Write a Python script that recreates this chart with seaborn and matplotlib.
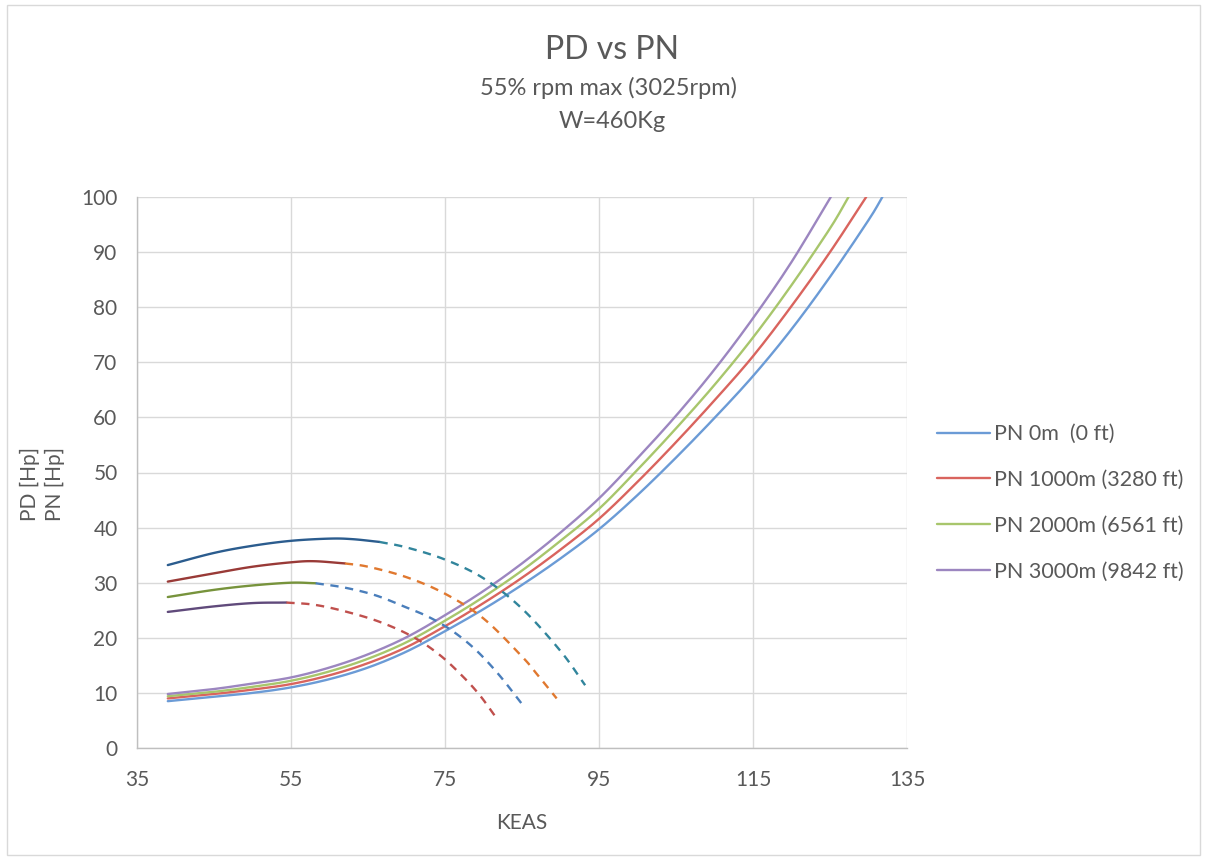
import matplotlib
matplotlib.use("Agg")
import matplotlib.pyplot as plt
from matplotlib.patches import Rectangle
from matplotlib.lines import Line2D
import seaborn as sns
import numpy as np
import pandas as pd

# ---- power required (PD) vs KEAS, one series per altitude ----
pd_keas_0 = [39, 45, 50, 55, 60, 65, 70, 75, 80, 85, 90, 95, 100, 105, 110, 115, 120, 125, 130, 131.8]
pd_hp_0 = [8.5, 9.3, 10.0, 11.0, 12.5, 14.6, 17.5, 21.2, 25.2, 29.6, 34.4, 39.7, 45.9, 52.7, 59.9, 67.5, 76.0, 85.5, 95.8, 100]

pd_keas_1000 = [39, 45, 50, 55, 60, 65, 70, 75, 80, 85, 90, 95, 100, 105, 110, 115, 120, 125, 129.7]
pd_hp_1000 = [9.0, 9.8, 10.6, 11.6, 13.2, 15.4, 18.3, 22.1, 26.3, 30.9, 36.0, 41.6, 48.3, 55.5, 63.1, 71.1, 80.2, 90.0, 100]

pd_keas_2000 = [39, 45, 50, 55, 60, 65, 70, 75, 80, 85, 90, 95, 100, 105, 110, 115, 120, 125, 127.4]
pd_hp_2000 = [9.4, 10.2, 11.1, 12.2, 13.9, 16.2, 19.2, 23.1, 27.4, 32.2, 37.6, 43.4, 50.5, 58.0, 65.9, 74.5, 84.0, 94.3, 100]

pd_keas_3000 = [39, 45, 50, 55, 60, 65, 70, 75, 80, 85, 90, 95, 100, 105, 110, 115, 120, 125.1]
pd_hp_3000 = [9.8, 10.7, 11.7, 12.8, 14.6, 17.0, 20.1, 24.1, 28.5, 33.5, 39.1, 45.3, 52.6, 60.3, 68.7, 78.0, 88.2, 100]

# ---- power available (PN): solid part and dashed continuation ----
pn_keas_0 = [39, 45, 50, 55, 60, 63, 66.5]
pn_hp_0 = [33.2, 35.4, 36.7, 37.6, 38.0, 37.9, 37.4]
pn_ext_keas_0 = [66.5, 70, 75, 80, 85, 90, 93.2]
pn_ext_hp_0 = [37.4, 36.4, 34.2, 30.8, 25.3, 17.6, 11.4]

pn_keas_1000 = [39, 45, 50, 55, 58, 62]
pn_hp_1000 = [30.2, 31.7, 32.9, 33.7, 33.9, 33.5]
pn_ext_keas_1000 = [62, 65, 70, 75, 80, 85, 87, 89.5]
pn_ext_hp_1000 = [33.5, 32.9, 31.0, 28.0, 23.5, 16.6, 13.3, 9.0]

pn_keas_2000 = [39, 45, 50, 55, 58.2]
pn_hp_2000 = [27.4, 28.7, 29.5, 30.0, 29.9]
pn_ext_keas_2000 = [58.2, 62, 66, 70, 73, 76, 79, 82, 85.1]
pn_ext_hp_2000 = [29.9, 29.1, 27.7, 25.5, 23.7, 21.2, 17.8, 13.3, 7.8]

pn_keas_3000 = [39, 45, 50, 54.4]
pn_hp_3000 = [24.7, 25.7, 26.3, 26.4]
pn_ext_keas_3000 = [54.4, 58, 62, 66.5, 70.8, 74.3, 77.3, 79.5, 81.6]
pn_ext_hp_3000 = [26.4, 26.0, 24.8, 22.9, 20.2, 16.9, 13.0, 9.6, 5.6]

legend_labels = ["PN 0m  (0 ft)", "PN 1000m (3280 ft)", "PN 2000m (6561 ft)", "PN 3000m (9842 ft)"]
x_ticks = [35, 55, 75, 95, 115, 135]
y_ticks = [0, 10, 20, 30, 40, 50, 60, 70, 80, 90, 100]

pd_colors = ["#6B9BD6", "#D9645E", "#A8C66C", "#9C86C0"]
pn_colors = ["#2B5C8E", "#993A37", "#77933C", "#604A7B"]
ext_colors = ["#31859C", "#E0782F", "#4A7EBB", "#C0504D"]


def smoothed(xs, ys, steps=12):
    """Smoothed-line rendering (Catmull-Rom) through the given points."""
    x = np.asarray(xs, float)
    y = np.asarray(ys, float)
    px = np.concatenate([[2 * x[0] - x[1]], x, [2 * x[-1] - x[-2]]])
    py = np.concatenate([[2 * y[0] - y[1]], y, [2 * y[-1] - y[-2]]])
    out_x, out_y = [x[0]], [y[0]]
    t = np.linspace(0, 1, steps + 1)[1:]
    for i in range(1, len(px) - 2):
        for arr, out in ((px, out_x), (py, out_y)):
            p0, p1, p2, p3 = arr[i - 1], arr[i], arr[i + 1], arr[i + 2]
            seg = 0.5 * ((2 * p1) + (-p0 + p2) * t
                         + (2 * p0 - 5 * p1 + 4 * p2 - p3) * t ** 2
                         + (-p0 + 3 * p1 - 3 * p2 + p3) * t ** 3)
            out.extend(seg)
    return pd.DataFrame({"KEAS": out_x, "HP": out_y})


sns.set_theme(style="white")
plt.rcParams["font.family"] = ["Lato", "DejaVu Sans"]
text_color = "#595959"

fig = plt.figure(figsize=(12.05, 8.59), dpi=100)
ax = fig.add_axes([137 / 1205, 1 - 748 / 859, 770 / 1205, 551 / 859])

pd_sets = [(pd_keas_0, pd_hp_0), (pd_keas_1000, pd_hp_1000),
           (pd_keas_2000, pd_hp_2000), (pd_keas_3000, pd_hp_3000)]
pn_sets = [(pn_keas_0, pn_hp_0), (pn_keas_1000, pn_hp_1000),
           (pn_keas_2000, pn_hp_2000), (pn_keas_3000, pn_hp_3000)]
ext_sets = [(pn_ext_keas_0, pn_ext_hp_0), (pn_ext_keas_1000, pn_ext_hp_1000),
            (pn_ext_keas_2000, pn_ext_hp_2000), (pn_ext_keas_3000, pn_ext_hp_3000)]

lw = 1.7
for (xs, ys), c in zip(pd_sets, pd_colors):
    sns.lineplot(data=smoothed(xs, ys), x="KEAS", y="HP", ax=ax, color=c,
                 linewidth=lw, estimator=None, sort=False)
for (xs, ys), c in zip(pn_sets, pn_colors):
    sns.lineplot(data=smoothed(xs, ys), x="KEAS", y="HP", ax=ax, color=c,
                 linewidth=lw, estimator=None, sort=False)
for (xs, ys), c in zip(ext_sets, ext_colors):
    sns.lineplot(data=smoothed(xs, ys), x="KEAS", y="HP", ax=ax, color=c,
                 linewidth=lw, linestyle=(0, (3.5, 2.8)), estimator=None, sort=False)

ax.set_xlim(35, 135)
ax.set_ylim(0, 100)
ax.set_xticks(x_ticks)
ax.set_yticks(y_ticks)
ax.set_xticklabels([str(t) for t in x_ticks])
ax.set_yticklabels([str(t) for t in y_ticks])
ax.grid(True, color="#D9D9D9", linewidth=1.0)
ax.set_axisbelow(True)
for side in ["top", "right"]:
    ax.spines[side].set_visible(False)
for side in ["left", "bottom"]:
    ax.spines[side].set_color("#BFBFBF")
    ax.spines[side].set_linewidth(1.0)
ax.tick_params(axis="both", length=0, labelsize=15, colors=text_color)
ax.tick_params(axis="y", pad=14)
ax.tick_params(axis="x", pad=16)

ax.set_xlabel("KEAS", fontsize=15, color=text_color)
ax.xaxis.set_label_coords(0.5, -0.118)
ax.set_ylabel("PD [Hp]\nPN [Hp]", fontsize=15, color=text_color, linespacing=1.3)
ax.yaxis.set_label_coords(-0.093, 0.48)

handles = [Line2D([0], [0], color=c, linewidth=lw) for c in pd_colors]
ax.legend(handles, legend_labels, loc="center left", bbox_to_anchor=(1.014, 0.445),
          frameon=False, fontsize=15.5, handlelength=2.45, handletextpad=0.2,
          labelspacing=1.2, labelcolor=text_color)

fig.text(0.508, 1 - 50 / 859, "PD vs PN", ha="center", va="center",
         fontsize=23, color=text_color)
fig.text(0.505, 1 - 88 / 859, "55% rpm max (3025rpm)", ha="center", va="center",
         fontsize=17, color=text_color)
fig.text(0.508, 1 - 121 / 859, "W=460Kg", ha="center", va="center",
         fontsize=17, color=text_color)

fig.patches.append(Rectangle((7 / 1205, 4 / 859), 1193 / 1205, 850 / 859,
                             transform=fig.transFigure, fill=False,
                             edgecolor="#D9D9D9", linewidth=1.0))

fig.savefig("out.png", dpi=100, facecolor="white")
